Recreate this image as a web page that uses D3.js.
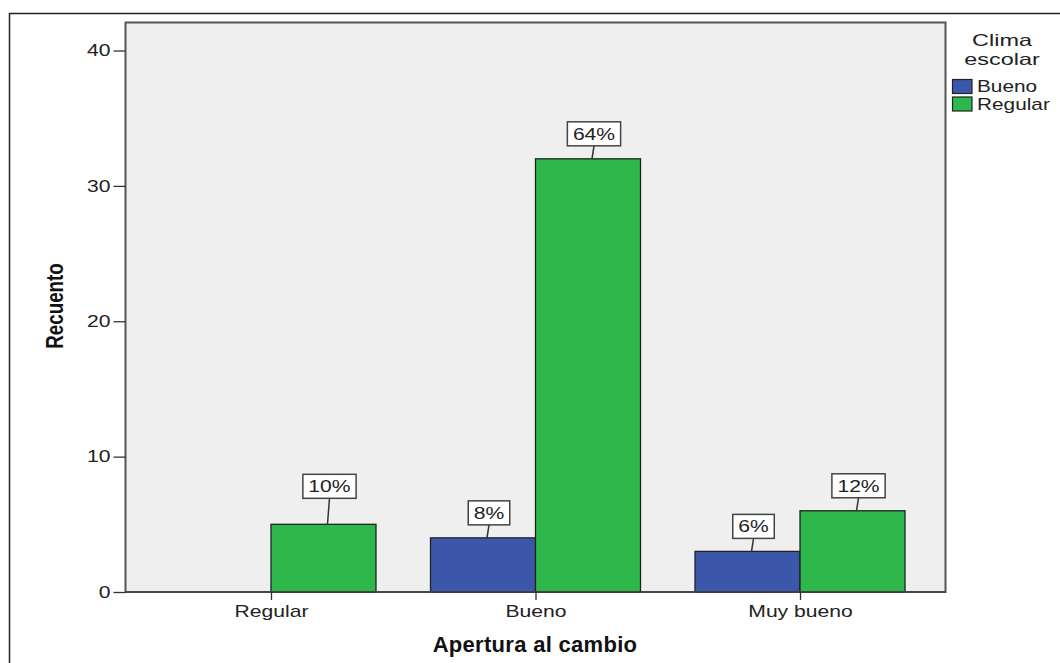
<!DOCTYPE html>
<html><head><meta charset="utf-8">
<script src="https://cdn.jsdelivr.net/npm/d3@7"></script>
<style>body{margin:0;background:#fff}svg{display:block}</style>
</head><body>
<svg id="c" width="1060" height="663"></svg>
<script>
const categories = ["Regular", "Bueno", "Muy bueno"];
const seriesNames = ["Bueno", "Regular"];
const bueno = [0, 4, 3];
const regular = [5, 32, 6];
const buenoPct = ["", "8%", "6%"];
const regularPct = ["10%", "64%", "12%"];
const yTicks = [0, 10, 20, 30, 40];
const colors = {"Bueno": "#3c56a9", "Regular": "#2eb84b"};

const svg = d3.select("#c");
const font = "'Liberation Sans', Arial, sans-serif";
const K = 1.32; // horizontal stretch of the small texts
const L = 125.5, R = 945.5, T = 22.5, B = 592;

function stext(parent, x, y, str, size, anchor, k) {
  return parent.append("text")
    .attr("transform", `translate(${x},${y}) scale(${k},1)`)
    .attr("text-anchor", anchor)
    .attr("font-family", font).attr("font-size", size).attr("fill", "#222").text(str);
}

svg.append("path").attr("d", "M9.5,663 V13.5 H1060").attr("fill", "none").attr("stroke", "#222").attr("stroke-width", 1.5);

const y = d3.scaleLinear().domain([0, 42.07]).range([B, T]);
const x = d3.scalePoint().domain(categories).range([L, R]).padding(0.55);
const bw = 105;

svg.append("rect").attr("x", L).attr("y", T).attr("width", R - L).attr("height", B - T)
  .attr("fill", "#efefef").attr("stroke", "#555").attr("stroke-width", 2);

const data = [];
categories.forEach((c, i) => {
  data.push({cat: c, s: "Bueno", v: bueno[i], p: buenoPct[i], off: -1});
  data.push({cat: c, s: "Regular", v: regular[i], p: regularPct[i], off: 0});
});

svg.selectAll("rect.bar").data(data.filter(d => d.v > 0)).enter().append("rect")
  .attr("class", "bar")
  .attr("x", d => x(d.cat) + d.off * bw)
  .attr("y", d => y(d.v))
  .attr("width", bw).attr("height", d => B - y(d.v))
  .attr("fill", d => colors[d.s]).attr("stroke", "#222").attr("stroke-width", 1.3);

svg.append("line").attr("x1", L).attr("x2", R).attr("y1", B).attr("y2", B).attr("stroke", "#444").attr("stroke-width", 1.5);

const yAxis = d3.axisLeft(y).tickValues(yTicks).tickSize(12).tickSizeOuter(0).tickPadding(3);
const gy = svg.append("g").attr("transform", `translate(${L},0)`).call(yAxis);
gy.select(".domain").remove();
gy.selectAll(".tick line").attr("stroke", "#333").attr("stroke-width", 1.3);
gy.selectAll(".tick text")
  .attr("transform", `translate(-15,0) scale(${K},1)`).attr("x", 0)
  .attr("font-family", font).attr("font-size", 16).attr("fill", "#222");

const xAxis = d3.axisBottom(x).tickSize(8).tickSizeOuter(0).tickPadding(5.5);
const gx = svg.append("g").attr("transform", `translate(0,${B})`).call(xAxis);
gx.select(".domain").remove();
gx.selectAll(".tick line").attr("stroke", "#333").attr("stroke-width", 1.3);
gx.selectAll(".tick text")
  .attr("transform", `scale(${K},1)`)
  .attr("font-family", font).attr("font-size", 16).attr("fill", "#222");

const lab = svg.selectAll("g.lab").data(data.filter(d => d.p)).enter().append("g").attr("class", "lab");
lab.each(function(d) {
  const g = d3.select(this);
  const cx = x(d.cat) + d.off * bw + bw / 2;
  const top = y(d.v);
  const gap = d.cat === "Regular" ? 26 : 13;
  const bx = cx + 6;
  const bb = top - gap;
  g.append("line").attr("x1", cx + 4).attr("y1", top).attr("x2", bx).attr("y2", bb)
    .attr("stroke", "#333").attr("stroke-width", 1.5);
  const t = stext(g, bx, bb - 6, d.p, 16, "middle", K);
  const w = t.node().getComputedTextLength() * K + 11;
  g.insert("rect", "text").attr("x", bx - w / 2).attr("y", bb - 24).attr("width", w).attr("height", 24)
    .attr("fill", "#fff").attr("stroke", "#444").attr("stroke-width", 1.5);
});

svg.append("text").attr("x", 535).attr("y", 651.5).attr("text-anchor", "middle")
  .attr("font-family", font).attr("font-weight", "bold").attr("font-size", 22).attr("letter-spacing", 0.3)
  .attr("fill", "#111").text("Apertura al cambio");
svg.append("text").attr("transform", "translate(63,306) rotate(-90) scale(0.8,1)").attr("text-anchor", "middle")
  .attr("font-family", font)
  .attr("font-weight", "bold").attr("font-size", 23.5).attr("fill", "#111").text("Recuento");

stext(svg, 1002, 45.5, "Clima", 16.5, "middle", 1.42);
stext(svg, 1002, 64.5, "escolar", 16.5, "middle", 1.42);
seriesNames.forEach((s, i) => {
  const yy = 79.5 + i * 17.5;
  svg.append("rect").attr("x", 952.5).attr("y", yy).attr("width", 19.5).attr("height", 14)
    .attr("fill", colors[s]).attr("stroke", "#222").attr("stroke-width", 1.2);
  stext(svg, 977, yy + 12.5, s, 16, "start", 1.3);
});
</script>
</body></html>
